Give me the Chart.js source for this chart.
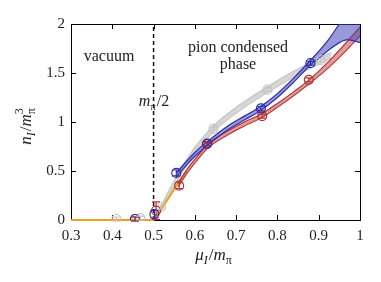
<!DOCTYPE html>
<html>
<head>
<meta charset="utf-8">
<script src="https://cdn.jsdelivr.net/npm/chart.js@4/dist/chart.umd.min.js"></script>
<style>
  html, body { margin: 0; padding: 0; background: #fff; }
  canvas { display: block; }
</style>
</head>
<body>
<canvas id="grafico" width="381" height="282"></canvas>
<script>
/* Valores (x = mu_I/m_pi, y = n_I/m_pi^3) */
const xTicks = [0.3, 0.4, 0.5, 0.6, 0.7, 0.8, 0.9, 1];
const yTicks = [0, 0.5, 1, 1.5, 2];

// faixa cinza
const grayX  = [0.50, 0.52, 0.56, 0.60, 0.645, 0.70, 0.776, 0.84, 0.905, 0.93];
const grayLo = [0.00, 0.11, 0.42, 0.68, 0.90, 1.09, 1.30, 1.46, 1.60, 1.65];
const grayHi = [0.02, 0.16, 0.48, 0.74, 0.96, 1.15, 1.36, 1.52, 1.66, 1.71];

// linha laranja
const orangeX = [0.30, 0.50, 0.52, 0.54, 0.56, 0.58];
const orangeY = [0.00, 0.00, 0.12, 0.25, 0.38, 0.50];

// faixa vermelha
const redX  = [0.56, 0.58, 0.60, 0.63, 0.68, 0.72, 0.76, 0.80, 0.84, 0.88, 0.92, 0.96, 1.00];
const redLo = [0.34, 0.47, 0.58, 0.73, 0.87, 0.96, 1.04, 1.15, 1.27, 1.40, 1.54, 1.70, 1.88];
const redHi = [0.38, 0.51, 0.62, 0.77, 0.91, 1.00, 1.08, 1.19, 1.31, 1.44, 1.60, 1.78, 1.97];

// faixa azul
const blueX  = [0.555, 0.58, 0.60, 0.63, 0.68, 0.72, 0.76, 0.80, 0.84, 0.88, 0.90, 0.92, 0.95, 0.97, 1.00];
const blueLo = [0.44, 0.56, 0.65, 0.76, 0.92, 1.02, 1.12, 1.25, 1.41, 1.58, 1.65, 1.72, 1.81, 1.84, 1.81];
const blueHi = [0.48, 0.60, 0.69, 0.80, 0.96, 1.06, 1.16, 1.29, 1.45, 1.63, 1.72, 1.82, 2.00, 2.12, 2.30];

// pontos com barras de erro
const blueMarkX = [0.455, 0.502, 0.555, 0.63, 0.76, 0.88];
const blueMarkY = [0.01, 0.06, 0.48, 0.78, 1.14, 1.60];
const blueErr   = [0.02, 0.04, 0.03, 0.02, 0.02, 0.02];

const redMarkX = [0.455, 0.506, 0.562, 0.629, 0.763, 0.876];
const redMarkY = [0.01, 0.095, 0.35, 0.775, 1.06, 1.43];
const redErr   = [0.02, 0.09, 0.03, 0.02, 0.02, 0.02];

const grayMarkX = [0.41, 0.468, 0.518, 0.645, 0.776, 0.905];
const grayMarkY = [0.01, 0.02, 0.13, 0.93, 1.33, 1.63];
const grayErr   = [0.02, 0.02, 0.02, 0.02, 0.02, 0.02];

const mHalf = 0.5; // linha tracejada em m_pi/2

/* Cores */
const COR = {
  azul: '#2a2aa8', azulFundo: 'rgba(70,70,185,0.55)',
  verm: '#b03434', vermFundo: 'rgba(200,90,90,0.6)',
  cinza: '#c4c4c4', cinzaFundo: 'rgba(210,210,210,0.9)',
  laranja: '#f0a020'
};
const SERIF = '"Liberation Serif", "DejaVu Serif", serif';

const pts = (xs, ys) => xs.map((x, i) => ({ x, y: ys[i] }));

function linha(xs, ys, cor, extra) {
  return Object.assign({
    data: pts(xs, ys), borderColor: cor, borderWidth: 1.2,
    pointRadius: 0, fill: false, cubicInterpolationMode: 'monotone'
  }, extra || {});
}

function marcadores(xs, ys, erros, cor) {
  return {
    data: pts(xs, ys), erros, showLine: false,
    pointStyle: 'circle', pointRadius: 4.5, pointBorderWidth: 1.2,
    pointBorderColor: cor, pointBackgroundColor: 'rgba(0,0,0,0)', borderColor: cor
  };
}

/* Moldura com ticks para dentro, barras de erro e textos */
const extras = {
  id: 'extras',
  beforeDatasetsDraw(chart) {
    const { ctx, chartArea: a, scales: { x, y } } = chart;
    ctx.save();
    ctx.strokeStyle = '#000';
    ctx.lineWidth = 1;
    ctx.strokeRect(Math.round(a.left) + 0.5, Math.round(a.top) + 0.5,
      Math.round(a.right - a.left), Math.round(a.bottom - a.top));
    ctx.beginPath();
    xTicks.forEach(v => {
      const px = Math.round(x.getPixelForValue(v)) + 0.5;
      ctx.moveTo(px, a.bottom); ctx.lineTo(px, a.bottom - 5);
      ctx.moveTo(px, a.top); ctx.lineTo(px, a.top + 5);
    });
    yTicks.forEach(v => {
      const py = Math.round(y.getPixelForValue(v)) + 0.5;
      ctx.moveTo(a.left, py); ctx.lineTo(a.left + 5, py);
      ctx.moveTo(a.right, py); ctx.lineTo(a.right - 5, py);
    });
    ctx.stroke();
    ctx.restore();
  },
  afterDatasetsDraw(chart) {
    const { ctx, scales: { x, y } } = chart;
    ctx.save();
    chart.data.datasets.forEach((ds, i) => {
      if (!ds.erros || !chart.isDatasetVisible(i)) return;
      ctx.strokeStyle = ds.pointBorderColor;
      ctx.lineWidth = 1.1;
      ds.data.forEach((p, k) => {
        const px = x.getPixelForValue(p.x);
        const y1 = y.getPixelForValue(p.y - ds.erros[k]);
        const y2 = y.getPixelForValue(p.y + ds.erros[k]);
        ctx.beginPath();
        ctx.moveTo(px, y1); ctx.lineTo(px, y2);
        ctx.moveTo(px - 4, y1); ctx.lineTo(px + 4, y1);
        ctx.moveTo(px - 4, y2); ctx.lineTo(px + 4, y2);
        ctx.stroke();
      });
    });
    ctx.restore();
  },
  afterDraw(chart) {
    const { ctx } = chart;
    ctx.save();
    ctx.fillStyle = '#222';
    ctx.textBaseline = 'middle';
    ctx.textAlign = 'center';
    ctx.font = `16px ${SERIF}`;
    ctx.fillText('vacuum', 109, 57);
    ctx.fillText('pion condensed', 238, 48);
    ctx.fillText('phase', 238, 65);

    textoRico(ctx, [{ t: 'm', it: 1 }, { t: 'π', sub: 1 }, { t: '/2' }], 154, 102, 16);
    textoRico(ctx, [{ t: 'μ', it: 1 }, { t: 'I', it: 1, sub: 1 }, { t: '/' }, { t: 'm', it: 1 }, { t: 'π', sub: 1 }], 214, 256, 17);

    ctx.translate(27, 126);
    ctx.rotate(-Math.PI / 2);
    textoRico(ctx, [{ t: 'n', it: 1 }, { t: 'I', it: 1, sub: 1 }, { t: '/' }, { t: 'm', it: 1 }, { t: 'π', sub: 1, sup: '3' }], 0, 0, 17);
    ctx.restore();
  }
};

// escreve texto com índices (sub/sobrescrito) centrado em (cx, cy)
function textoRico(ctx, partes, cx, cy, tam) {
  const pequeno = Math.round(tam * 0.7);
  const fonte = p => `${p.it ? 'italic ' : ''}${p.sub ? pequeno : tam}px ${SERIF}`;
  let largura = 0;
  partes.forEach(p => {
    ctx.font = fonte(p);
    p.w = ctx.measureText(p.t).width;
    if (p.sup) { ctx.font = `${pequeno}px ${SERIF}`; p.w = Math.max(p.w, ctx.measureText(p.sup).width); }
    largura += p.w + (p.sub ? 1 : 0);
  });
  let px = cx - largura / 2;
  ctx.textAlign = 'left';
  ctx.textBaseline = 'middle';
  partes.forEach(p => {
    ctx.font = fonte(p);
    ctx.fillText(p.t, px, cy + (p.sub ? tam * 0.3 : 0));
    if (p.sup) {
      ctx.font = `${pequeno}px ${SERIF}`;
      ctx.fillText(p.sup, px, cy - tam * 0.4);
    }
    px += p.w + (p.sub ? 1 : 0);
  });
}

const datasets = [
  marcadores(blueMarkX, blueMarkY, blueErr, COR.azul),
  marcadores(redMarkX, redMarkY, redErr, COR.verm),
  marcadores(grayMarkX, grayMarkY, grayErr, COR.cinza),
  linha(blueX, blueHi, COR.azul, { fill: '+1', backgroundColor: COR.azulFundo }),
  linha(blueX, blueLo, COR.azul),
  linha(redX, redHi, COR.verm, { fill: '+1', backgroundColor: COR.vermFundo }),
  linha(redX, redLo, COR.verm),
  linha(orangeX, orangeY, COR.laranja, { borderWidth: 2.2, cubicInterpolationMode: 'default', tension: 0, clip: 3 }),
  linha(grayX, grayHi, COR.cinza, { fill: '+1', backgroundColor: COR.cinzaFundo }),
  linha(grayX, grayLo, COR.cinza),
  { data: [{ x: mHalf, y: 0 }, { x: mHalf, y: 2 }], borderColor: '#111', borderWidth: 1.5,
    borderDash: [4, 3], pointRadius: 0, fill: false }
];

new Chart(document.getElementById('grafico'), {
  type: 'line',
  data: { datasets },
  options: {
    responsive: false,
    animation: false,
    plugins: { legend: { display: false }, tooltip: { enabled: false } },
    layout: { padding: { top: 24, right: 21, left: 0, bottom: 0 } },
    scales: {
      x: {
        type: 'linear', min: 0.3, max: 1,
        afterFit(s) { s.height = 62; },
        grid: { display: false, drawTicks: false },
        border: { display: false },
        afterBuildTicks(s) { s.ticks = xTicks.map(v => ({ value: v })); },
        ticks: {
          autoSkip: false, maxRotation: 0, padding: 7, color: '#222',
          font: { family: SERIF, size: 15 },
          callback: v => String(+v.toFixed(1))
        }
      },
      y: {
        type: 'linear', min: 0, max: 2,
        afterFit(s) { s.width = 71; },
        grid: { display: false, drawTicks: false },
        border: { display: false },
        afterBuildTicks(s) { s.ticks = yTicks.map(v => ({ value: v })); },
        ticks: {
          padding: 6, color: '#222',
          font: { family: SERIF, size: 15 },
          callback: v => String(+v.toFixed(1))
        }
      }
    }
  },
  plugins: [extras]
});
</script>
</body>
</html>
